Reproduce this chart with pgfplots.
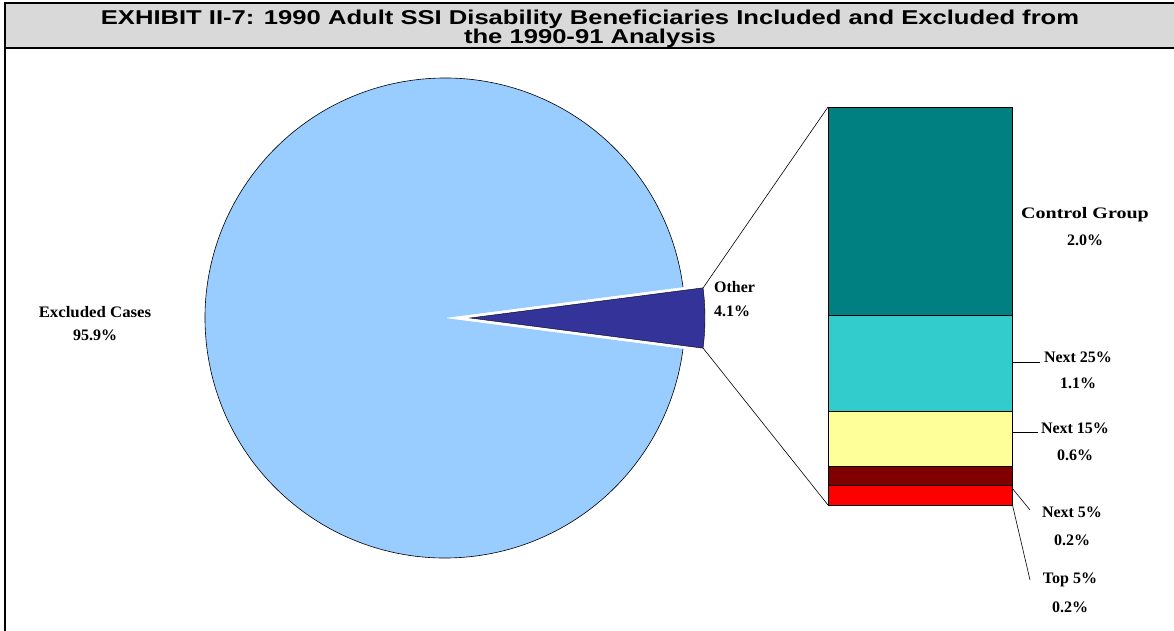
\documentclass[border=0pt]{standalone}
\usepackage{pgfplots}
\pgfplotsset{compat=1.18}
\usepackage{fontspec}
\setmainfont{Liberation Serif}
\newfontfamily\arialfont{Liberation Sans}
\definecolor{lblue}{HTML}{99CCFF}
\definecolor{dblue}{HTML}{333399}
\definecolor{teal2}{HTML}{008080}
\definecolor{turq}{HTML}{33CCCC}
\definecolor{lyel}{HTML}{FFFF99}
\definecolor{dred}{HTML}{800000}
\definecolor{red2}{HTML}{FF0000}
\definecolor{tgray}{HTML}{D9D9D9}
\begin{document}
\begin{tikzpicture}
\begin{axis}[at={(0pt,0pt)},anchor=south west,width=1174pt,height=631pt,scale only axis,
  xmin=0,xmax=1174,ymin=0,ymax=631,y dir=reverse,hide axis,clip=false]
% pie values
\pgfmathsetmacro{\other}{4.1}
\pgfmathsetmacro{\half}{\other*3.6/2}
\pgfmathsetmacro{\endang}{360-\half}
% title box
\draw[fill=tgray,line width=2.2pt] (axis cs:5,3) rectangle (axis cs:1190,48);
\draw[line width=2.2pt] (axis cs:5,48) -- (axis cs:5,640);
\node[font=\arialfont\bfseries\fontsize{20}{22}\selectfont] at (axis cs:590,19) {\scalebox{1.28}[1]{EXHIBIT II-7: 1990 Adult SSI Disability Beneficiaries Included and Excluded from}};
\node[font=\arialfont\bfseries\fontsize{20}{22}\selectfont] at (axis cs:590,38.5) {\scalebox{1.28}[1]{the 1990-91 Analysis}};
% pie
\fill[lblue] (axis cs:445,318) -- ++(\half:240pt) arc[start angle=\half,end angle=\endang,radius=240pt] -- cycle;
\draw[black,line width=0.6pt] (axis cs:445,318) ++(\half:240pt) arc[start angle=\half,end angle=\endang,radius=240pt];
\filldraw[fill=dblue,draw=black,line width=0.4pt] (axis cs:470,318) -- ++(-\half:235pt) arc[start angle=-\half,end angle=\half,radius=235pt] -- cycle;
% connectors
\draw[black,line width=0.6pt] (axis cs:703,288) -- (axis cs:828,107);
\draw[black,line width=0.6pt] (axis cs:703,348) -- (axis cs:828,505);
% leaders
\draw[black,line width=0.6pt] (axis cs:1012,362) -- (axis cs:1040,362);
\draw[black,line width=0.6pt] (axis cs:1012,432) -- (axis cs:1038,432);
\draw[black,line width=0.6pt] (axis cs:1012,488) -- (axis cs:1030,510);
\draw[black,line width=0.6pt] (axis cs:1012,503) -- (axis cs:1030,580);
% labels
\begin{scope}[every node/.style={font=\bfseries\fontsize{16}{19}\selectfont,inner sep=0pt}]
\node at (axis cs:95,312) {\scalebox{1.05}[1]{Excluded Cases}};
\node at (axis cs:95,335) {95.9\%};
\node[anchor=west] at (axis cs:714,287) {Other};
\node[anchor=west] at (axis cs:714,311) {4.1\%};
\node at (axis cs:1085,215) {\scalebox{1.25}[1]{Control Group}};
\node at (axis cs:1085,240) {2.0\%};
\node at (axis cs:1078,357) {Next 25\%};
\node at (axis cs:1078,383) {1.1\%};
\node at (axis cs:1075,428) {Next 15\%};
\node at (axis cs:1075,455) {0.6\%};
\node at (axis cs:1072,512) {Next 5\%};
\node at (axis cs:1072,540) {0.2\%};
\node at (axis cs:1070,580) {Top 5\%};
\node at (axis cs:1070,607) {0.2\%};
\end{scope}
\end{axis}
\begin{axis}[at={(828pt,126pt)},anchor=south west,width=184pt,height=398pt,scale only axis,
  xmin=-0.5,xmax=0.5,ymin=0,ymax=4.1,hide axis,clip=false,
  ybar stacked,bar width=184pt,enlargelimits=false]
\addplot[fill=red2,draw=black,line width=0.5pt] coordinates {(0,0.2)};
\addplot[fill=dred,draw=black,line width=0.5pt] coordinates {(0,0.2)};
\addplot[fill=lyel,draw=black,line width=0.5pt] coordinates {(0,0.57)};
\addplot[fill=turq,draw=black,line width=0.5pt] coordinates {(0,0.98)};
\addplot[fill=teal2,draw=black,line width=0.5pt] coordinates {(0,2.15)};
\end{axis}
\pgfresetboundingbox
\useasboundingbox (0pt,0pt) rectangle (1174pt,631pt);
\end{tikzpicture}
\end{document}
